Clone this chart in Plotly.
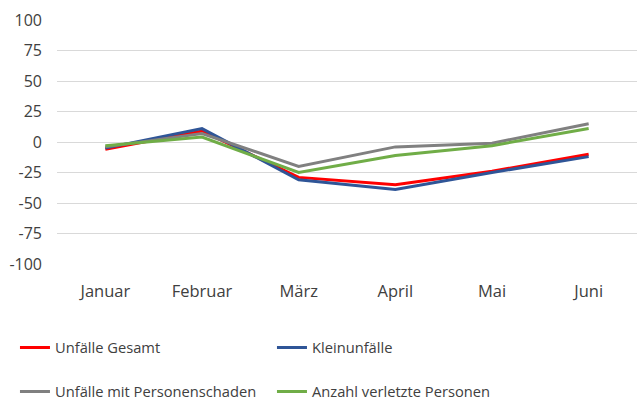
import plotly.graph_objects as go

months = ["Januar", "Februar", "März", "April", "Mai", "Juni"]
unfaelle_gesamt = [-6, 9, -29, -35, -24, -10]
kleinunfaelle = [-5, 11, -31, -39, -25, -12]
personenschaden = [-4, 7, -20, -4, -1, 15]
verletzte = [-3, 4, -25, -11, -3, 11]
y_ticks = [100, 75, 50, 25, 0, -25, -50, -75, -100]
y_tick_text = ["100", "75", "50", "25", "0", "-25", "-50", "-75", "-100"]

FONT = "Open Sans"
TXT = "#404040"

fig = go.Figure()
series = [
    ("Unfälle Gesamt", unfaelle_gesamt, "#FF0000", "legend"),
    ("Kleinunfälle", kleinunfaelle, "#2F5597", "legend"),
    ("Unfälle mit Personenschaden", personenschaden, "#808080", "legend2"),
    ("Anzahl verletzte Personen", verletzte, "#70AD47", "legend2"),
]
for name, vals, col, lg in series:
    fig.add_trace(go.Scatter(x=months, y=vals, name=name, mode="lines",
                             line=dict(color=col, width=3), legend=lg))

leg_common = dict(orientation="h", xanchor="left", yanchor="middle",
                  xref="container", yref="container",
                  entrywidth=212, entrywidthmode="pixels",
                  font=dict(family=FONT, size=14.7, color=TXT),
                  bgcolor="rgba(0,0,0,0)", itemwidth=30)

fig.update_layout(
    width=637, height=401,
    margin=dict(l=57, r=0, t=20, b=137, autoexpand=False),
    paper_bgcolor="white", plot_bgcolor="white",
    font=dict(family=FONT, size=16, color=TXT),
    xaxis=dict(range=[-0.5, 5.5], showgrid=False, showline=False, ticks="",
               tickfont=dict(size=16.5, color=TXT), ticklabelstandoff=15),
    yaxis=dict(range=[-100, 100], tickvals=y_ticks, ticktext=y_tick_text,
               showgrid=True, gridcolor="#D9D9D9",
               gridwidth=1, zeroline=False, showline=False, ticks="",
               ticklabelstandoff=14,
               tickfont=dict(size=16, color=TXT)),
    legend=dict(x=0.0235, y=0.132, **leg_common),
    legend2=dict(x=0.0235, y=0.0224, **leg_common),
)

fig.write_html("out.html", config={"displayModeBar": False},
               post_script="document.body.style.margin='0';document.body.style.overflow='hidden';")
